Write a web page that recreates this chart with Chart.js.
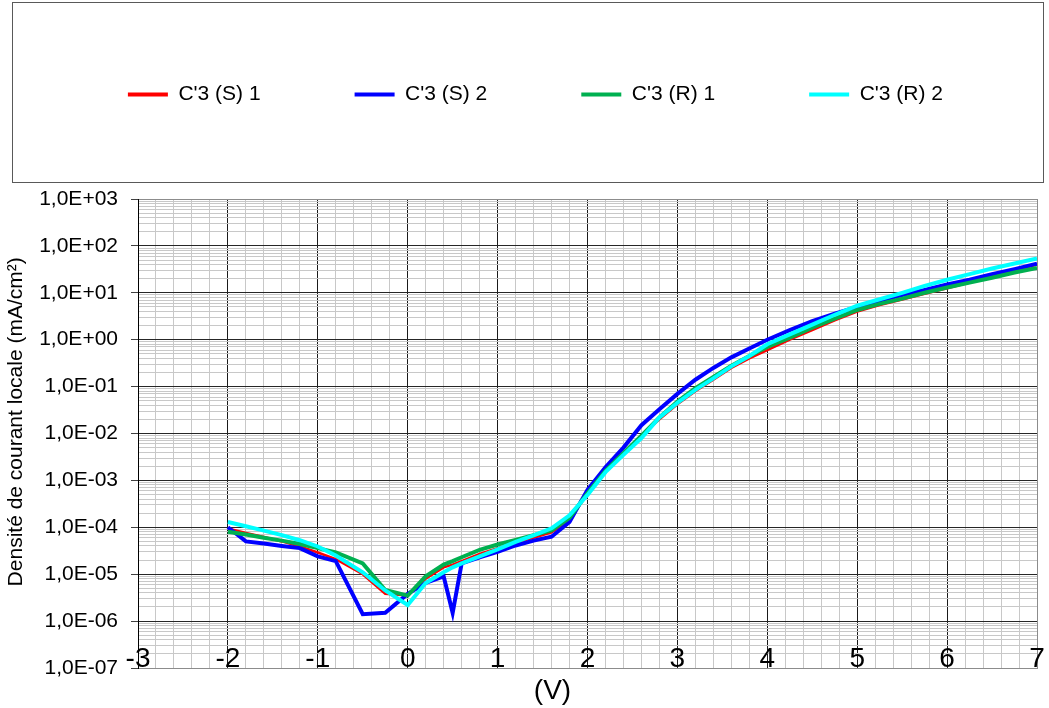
<!DOCTYPE html>
<html lang="fr">

<head>
  <meta charset="UTF-8">
  <title>C'3 - densité de courant</title>
  <script src="https://cdn.jsdelivr.net/npm/chart.js"></script>
  <style>
    body { margin: 0; background: #fff; }
    canvas { display: block; }
  </style>
</head>

<body>
  <canvas id="chart" width="1049" height="708"></canvas>
  <script>
    // tension appliquée (V)
    const voltage = [-2, -1.8, -1.6, -1.4, -1.2, -1, -0.8, -0.5, -0.25, 0,
      0.2, 0.4, 0.5, 0.6, 0.8, 1, 1.2, 1.4, 1.6, 1.8,
      2, 2.2, 2.4, 2.6, 2.8, 3, 3.2, 3.4, 3.6, 3.8,
      4, 4.25, 4.5, 4.75, 5, 5.25, 5.5, 5.75, 6, 6.25,
      6.5, 6.75, 7];

    // densité de courant locale (mA/cm²)
    const s1 = [9.5e-5, 7.6e-5, 6.2e-5, 5.0e-5, 3.9e-5, 2.9e-5, 2.1e-5, 1.0e-5, 3.8e-6, 3.5e-6,
      8e-6, 1.4e-5, 1.6e-5, 1.9e-5, 2.7e-5, 3.6e-5, 4.7e-5, 6.0e-5, 7.8e-5, 1.4e-4,
      5.6e-4, 1.6e-3, 3.8e-3, 9e-3, 2.0e-2, 4.2e-2, 8.0e-2, 0.14, 0.25, 0.4,
      0.6, 1.0, 1.6, 2.6, 4.0, 5.5, 7.2, 9.5, 12.5, 16.5,
      22, 29, 40];
    const s2 = [1.0e-4, 5.0e-5, 4.5e-5, 4.0e-5, 3.6e-5, 2.4e-5, 1.9e-5, 1.4e-6, 1.5e-6, 3.8e-6,
      6.5e-6, 9e-6, 1.5e-6, 1.7e-5, 2.3e-5, 3.0e-5, 4.1e-5, 5.2e-5, 6.3e-5, 1.3e-4,
      6.3e-4, 1.9e-3, 5.0e-3, 1.5e-2, 3.3e-2, 7.0e-2, 0.14, 0.25, 0.42, 0.65,
      1.0, 1.6, 2.5, 3.6, 5.0, 6.8, 9.0, 11.5, 15, 19,
      25, 32, 42];
    const r1 = [8e-5, 7e-5, 6e-5, 5.2e-5, 4.4e-5, 3.6e-5, 2.9e-5, 1.7e-5, 4.6e-6, 3.5e-6,
      9e-6, 1.6e-5, 1.9e-5, 2.3e-5, 3.3e-5, 4.3e-5, 5.4e-5, 6.8e-5, 8.6e-5, 1.6e-4,
      5.3e-4, 1.6e-3, 3.8e-3, 9e-3, 2.2e-2, 4.8e-2, 9.3e-2, 0.16, 0.28, 0.45,
      0.7, 1.1, 1.8, 2.8, 4.3, 5.8, 7.5, 10, 13, 16.5,
      21, 27, 34];
    const r2 = [1.3e-4, 1.05e-4, 8.5e-5, 6.8e-5, 5.3e-5, 3.9e-5, 2.5e-5, 1.1e-5, 4.5e-6, 2.2e-6,
      6.5e-6, 1.1e-5, 1.4e-5, 1.7e-5, 2.4e-5, 3.4e-5, 4.9e-5, 6.7e-5, 9.5e-5, 1.8e-4,
      4.9e-4, 1.5e-3, 3.5e-3, 8e-3, 2.2e-2, 4.5e-2, 8.5e-2, 0.15, 0.27, 0.45,
      0.8, 1.3, 2.1, 3.4, 5.3, 7.3, 10, 14, 19, 25,
      33, 42, 54];

    const seriesNames = ["C'3 (S) 1", "C'3 (S) 2", "C'3 (R) 1", "C'3 (R) 2"];
    const seriesColors = ['#ff0000', '#0000ff', '#00b050', '#00ffff'];

    const FONT = "'Liberation Sans', Arial, sans-serif";
    const NB = '\u00a0';

    function points(ys) {
      return voltage.map((v, i) => ({ x: v, y: ys[i] }));
    }

    function isDecade(v) {
      const e = Math.log10(v);
      return Math.abs(e - Math.round(e)) < 1e-9;
    }

    function sci(v) {
      const e = Math.round(Math.log10(v));
      return '1,0E' + (e < 0 ? '-' : '+') + String(Math.abs(e)).padStart(2, '0');
    }

    // cadre autour de la légende
    const legendFrame = {
      id: 'legendFrame',
      beforeDraw(chart) {
        const ctx = chart.ctx;
        ctx.save();
        ctx.strokeStyle = '#595959';
        ctx.lineWidth = 1;
        ctx.strokeRect(12.5, 2.5, 1031, 180);
        ctx.restore();
      }
    };

    // hauteur fixe pour la zone de légende
    const legendHeight = {
      id: 'legendHeight',
      beforeInit(chart) {
        const fit = chart.legend.fit;
        chart.legend.fit = function () {
          fit.call(this);
          this.height = 209;
        };
      }
    };

    const ctx = document.getElementById('chart').getContext('2d');

    const datasets = [s1, s2, r1, r2].map((ys, i) => ({
      label: seriesNames[i],
      data: points(ys),
      borderColor: seriesColors[i],
      backgroundColor: seriesColors[i],
      borderWidth: i === 0 ? 2.5 : 4,
      pointRadius: 0,
      tension: 0,
      order: 3 - i
    }));

    new Chart(ctx, {
      type: 'line',
      data: { datasets },
      options: {
        responsive: false,
        animation: false,
        layout: { padding: { top: -10, right: 12, left: 0, bottom: 0 } },
        plugins: {
          tooltip: { enabled: false },
          legend: {
            position: 'top',
            align: 'end',
            labels: {
              boxWidth: 40,
              boxHeight: 4,
              padding: 94,
              color: '#000',
              font: { family: FONT, size: 21 },
              sort: (a, b) => a.datasetIndex - b.datasetIndex,
              generateLabels(chart) {
                return Chart.defaults.plugins.legend.labels.generateLabels(chart)
                  .map(item => ({ ...item, lineWidth: 0 }));
              }
            }
          }
        },
        scales: {
          x: {
            type: 'linear',
            min: -3,
            max: 7,
            afterBuildTicks(scale) {
              const ticks = [];
              for (let k = -15; k <= 35; k++) ticks.push({ value: k / 5 });
              scale.ticks = ticks;
            },
            afterFit(scale) { scale.height = 40; },
            ticks: {
              autoSkip: false,
              maxRotation: 0,
              mirror: true,
              padding: -8,
              color: '#000',
              font: { family: FONT, size: 28 },
              callback: v => Math.abs(v - Math.round(v)) < 1e-9 ? String(Math.round(v)) : ''
            },
            grid: {
              drawTicks: false,
              lineWidth: 1,
              color: c => {
                const v = c.tick.value;
                if (Math.abs(v - Math.round(v)) > 1e-9) return '#c8c8c8';
                return v === 7 ? '#8c8c8c' : '#1a1a1a';
              }
            },
            border: { color: '#8c8c8c', width: 1 },
            title: {
              display: true,
              text: '(V)' + NB.repeat(9),
              color: '#000',
              font: { family: FONT, size: 28 },
              padding: { top: 0, bottom: 0 }
            }
          },
          y: {
            type: 'logarithmic',
            min: 1e-7,
            max: 1e3,
            afterBuildTicks(scale) {
              const ticks = [];
              for (let e = -7; e <= 3; e++) {
                ticks.push({ value: Math.pow(10, e), major: true });
                if (e < 3) {
                  for (let k = 2; k <= 9; k++) ticks.push({ value: k * Math.pow(10, e) });
                }
              }
              scale.ticks = ticks;
            },
            afterFit(scale) { scale.width = 138; },
            ticks: {
              autoSkip: false,
              padding: 13,
              color: '#000',
              font: { family: FONT, size: 21 },
              callback: v => isDecade(v) ? sci(v) : ''
            },
            grid: {
              lineWidth: 1,
              tickLength: 7,
              color: c => {
                const v = c.tick.value;
                if (!isDecade(v)) return '#c8c8c8';
                return Math.round(Math.log10(v)) === 3 ? '#8c8c8c' : '#262626';
              },
              tickColor: c => isDecade(c.tick.value) ? '#404040' : 'rgba(0,0,0,0)'
            },
            border: { color: '#000', width: 1 },
            title: {
              display: true,
              text: NB.repeat(4) + 'Densité de courant locale (mA/cm²)',
              color: '#000',
              font: { family: FONT, size: 21 },
              padding: { top: 4, bottom: 0 }
            }
          }
        }
      },
      plugins: [legendHeight, legendFrame]
    });
  </script>
</body>

</html>
